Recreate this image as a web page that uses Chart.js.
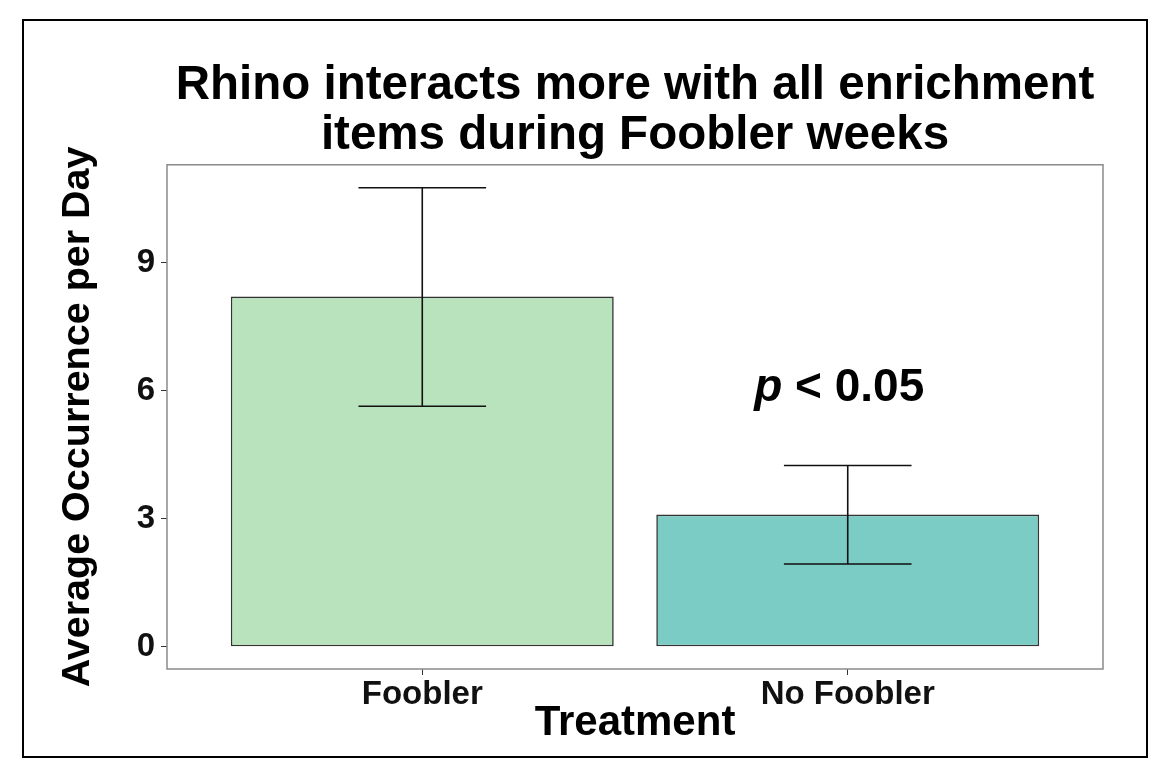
<!DOCTYPE html>
<html>
<head>
<meta charset="utf-8">
<script src="https://cdn.jsdelivr.net/npm/chart.js@4.4.1/dist/chart.umd.min.js"></script>
<style>
  html, body { margin: 0; padding: 0; background: #fff; }
  #wrap { width: 1169px; height: 776px; }
</style>
</head>
<body>
<div id="wrap"><canvas id="chart" width="1169" height="776"></canvas></div>
<script>
// data
const categories = ['Foobler', 'No Foobler'];
const means = [8.21, 3.10];
const errLow = [5.64, 1.94];
const errHigh = [10.76, 4.25];
const yTicks = [0, 3, 6, 9];
const barColors = ['#B9E3BC', '#7BCCC4'];

const FONT = 'Liberation Sans, Arial, sans-serif';

// outer frame + grey panel border
const framePlugin = {
    id: 'frame',
    beforeDraw(chart) {
        const ctx = chart.ctx;
        ctx.save();
        ctx.fillStyle = '#fff';
        ctx.fillRect(0, 0, chart.width, chart.height);
        ctx.strokeStyle = '#000';
        ctx.lineWidth = 2;
        ctx.strokeRect(23, 20, 1124, 737);
        ctx.restore();
    },
    afterDraw(chart) {
        const a = chart.chartArea;
        const ctx = chart.ctx;
        ctx.save();
        ctx.strokeStyle = '#8a8a8a';
        ctx.lineWidth = 1.5;
        ctx.strokeRect(a.left, a.top, a.right - a.left, a.bottom - a.top);
        ctx.restore();
    }
};

// error bars, drawn through the scales
const errorBarPlugin = {
    id: 'errorBars',
    afterDatasetsDraw(chart) {
        const xs = chart.scales.x, ys = chart.scales.y;
        const ctx = chart.ctx;
        ctx.save();
        ctx.strokeStyle = '#111';
        ctx.lineWidth = 1.6;
        categories.forEach((c, i) => {
            const x = xs.getPixelForValue(i + 1);
            const x0 = xs.getPixelForValue(i + 1 - 0.15);
            const x1 = xs.getPixelForValue(i + 1 + 0.15);
            const yl = ys.getPixelForValue(errLow[i]);
            const yh = ys.getPixelForValue(errHigh[i]);
            ctx.beginPath();
            ctx.moveTo(x, yl); ctx.lineTo(x, yh);
            ctx.moveTo(x0, yl); ctx.lineTo(x1, yl);
            ctx.moveTo(x0, yh); ctx.lineTo(x1, yh);
            ctx.stroke();
        });
        ctx.restore();
    }
};

// "p < 0.05" annotation
const pValuePlugin = {
    id: 'pValue',
    afterDraw(chart) {
        const ctx = chart.ctx;
        const x = chart.scales.x.getPixelForValue(1.98);
        const y = chart.scales.y.getPixelForValue(6.05);
        ctx.save();
        ctx.fillStyle = '#000';
        ctx.textBaseline = 'middle';
        const f1 = 'italic bold 46px ' + FONT;
        const f2 = 'bold 46px ' + FONT;
        ctx.font = f1;
        const w1 = ctx.measureText('p').width;
        ctx.font = f2;
        const w2 = ctx.measureText(' < 0.05').width;
        let left = x - (w1 + w2) / 2;
        ctx.font = f1;
        ctx.fillText('p', left, y);
        ctx.font = f2;
        ctx.fillText(' < 0.05', left + w1, y);
        ctx.restore();
    }
};

const axisGrid = {
    display: true,
    offset: false,
    drawOnChartArea: false,
    drawTicks: true,
    tickLength: 6,
    color: '#333',
    lineWidth: 1
};

new Chart(document.getElementById('chart'), {
    type: 'bar',
    data: {
        datasets: [{
            data: categories.map((c, i) => ({ x: i + 1, y: means[i] })),
            backgroundColor: barColors,
            borderColor: '#333',
            borderWidth: 1.6,
            borderSkipped: false,
            categoryPercentage: 0.9,
            barPercentage: 1
        }]
    },
    options: {
        responsive: false,
        animation: false,
        devicePixelRatio: 1,
        layout: { padding: { left: 54, right: 66, top: 0, bottom: 27 } },
        plugins: {
            legend: { display: false },
            tooltip: { enabled: false },
            title: {
                display: true,
                fullSize: false,
                text: ['Rhino interacts more with all enrichment', 'items during Foobler weeks'],
                color: '#000',
                font: { family: FONT, size: 47.5, weight: 'bold', lineHeight: 1.05 },
                padding: { top: 61, bottom: 4 }
            }
        },
        scales: {
            x: {
                type: 'linear',
                min: 0.4,
                max: 2.6,
                offset: false,
                grid: axisGrid,
                border: { display: false },
                afterBuildTicks: s => { s.ticks = categories.map((c, i) => ({ value: i + 1 })); },
                afterFit: s => { s.height = 80; },
                ticks: {
                    callback: v => categories[v - 1],
                    color: '#111',
                    font: { family: FONT, size: 33, weight: 'bold' },
                    padding: 0,
                    autoSkip: false,
                    maxRotation: 0
                },
                title: {
                    display: true,
                    text: 'Treatment',
                    color: '#000',
                    font: { family: FONT, size: 42, weight: 'bold' },
                    padding: { top: 0, bottom: 0 }
                }
            },
            y: {
                min: -0.52,
                max: 11.30,
                grid: axisGrid,
                border: { display: false },
                afterBuildTicks: s => { s.ticks = yTicks.map(v => ({ value: v })); },
                afterFit: s => { s.width = 113; },
                ticks: {
                    color: '#111',
                    font: { family: FONT, size: 33, weight: 'bold' },
                    padding: 6
                },
                title: {
                    display: true,
                    text: 'Average Occurrence per Day',
                    color: '#000',
                    font: { family: FONT, size: 39.5, weight: 'bold' },
                    padding: { top: 0, bottom: 0 }
                }
            }
        }
    },
    plugins: [framePlugin, errorBarPlugin, pValuePlugin]
});
</script>
</body>
</html>
